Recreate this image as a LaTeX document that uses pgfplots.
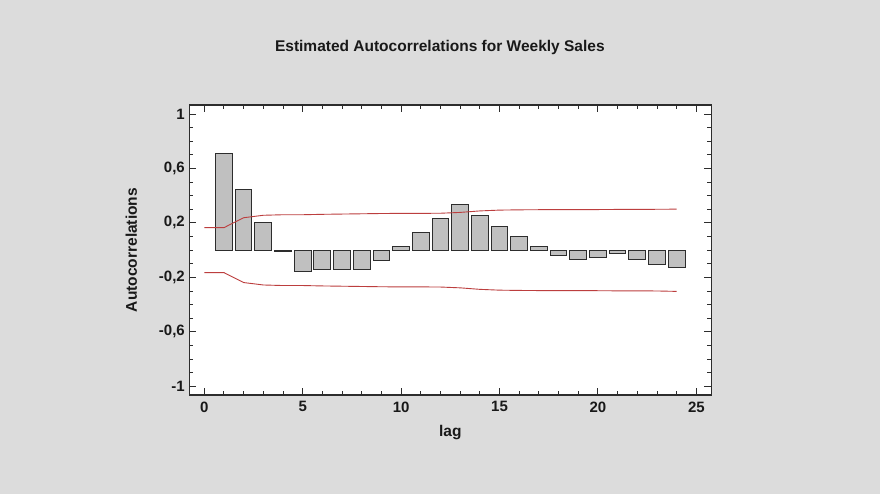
\documentclass[border=0pt]{standalone}
\usepackage{pgfplots}
\pgfplotsset{compat=1.18}
\usepackage{fontspec}
\setmainfont{Liberation Sans}
\definecolor{bgc}{RGB}{220,220,220}
\definecolor{barc}{RGB}{192,192,192}
\definecolor{edgec}{RGB}{45,45,45}
\definecolor{limc}{RGB}{188,62,62}
\begin{document}
\begin{tikzpicture}[x=1pt,y=1pt]
\fill[bgc] (0,0) rectangle (880,494);
\useasboundingbox (0,0) rectangle (880,494);
\begin{axis}[
  at={(189.3pt,99pt)}, anchor=south west,
  scale only axis, width=522pt, height=290pt,
  xmin=-0.76, xmax=25.76, ymin=-1.064, ymax=1.066,
  axis background/.style={fill=white},
  axis line style={edgec, line width=1.1pt},
  xtick={0,5,10,15,20,25},
  minor x tick num=4,
  ytick={-1,-0.6,-0.2,0.2,0.6,1},
  yticklabels={-1,{-0,6},{-0,2},{0,2},{0,6},1},
  minor y tick num=3,
  tick align=inside,
  major tick length=7pt, minor tick length=4pt,
  tick style={edgec, line width=0.9pt},
  /pgf/number format/assume math mode=true,
  tick label style={font=\fontsize{15}{18}\selectfont\bfseries, text=black!90},
  xticklabel style={yshift=-3pt},
  yticklabel style={xshift=-1pt},
  xlabel={lag},
  ylabel={Autocorrelations},
  label style={font=\fontsize{15.5}{18}\selectfont\bfseries, text=black!90},
  xlabel style={at={(axis description cs:0.5,-0.128)}, anchor=center},
  ylabel style={at={(axis description cs:-0.111,0.5)}, anchor=center},
  title={Estimated Autocorrelations for Weekly Sales},
  title style={at={(axis description cs:0.480,1.176)}, anchor=center,
    font=\fontsize{15.5}{18}\selectfont\bfseries, text=black!90},
]
\addplot[ybar, bar width=0.85, fill=barc, draw=edgec, line width=1pt] coordinates {
(1,0.708) (2,0.445) (3,0.204) (4,-0.008) (5,-0.160) (6,-0.144)
(7,-0.139) (8,-0.144) (9,-0.078) (10,0.027) (11,0.131) (12,0.234)
(13,0.336) (14,0.253) (15,0.175) (16,0.097) (17,0.027) (18,-0.036)
(19,-0.066) (20,-0.054) (21,-0.022) (22,-0.066) (23,-0.102) (24,-0.131)
};
\addplot[limc, line width=0.9pt, mark=none] coordinates {
(0,0.165) (1,0.165) (2,0.238) (3,0.256) (4,0.260) (5,0.260) (6,0.263)
(7,0.265) (8,0.267) (9,0.269) (10,0.270) (11,0.270) (12,0.271) (13,0.277)
(14,0.288) (15,0.294) (16,0.296) (17,0.297) (18,0.297) (19,0.297) (20,0.298)
(21,0.299) (22,0.299) (23,0.300) (24,0.301)
};
\addplot[limc, line width=0.9pt, mark=none] coordinates {
(0,-0.165) (1,-0.165) (2,-0.238) (3,-0.256) (4,-0.260) (5,-0.260) (6,-0.263)
(7,-0.265) (8,-0.267) (9,-0.269) (10,-0.270) (11,-0.270) (12,-0.271) (13,-0.277)
(14,-0.288) (15,-0.294) (16,-0.296) (17,-0.297) (18,-0.297) (19,-0.297) (20,-0.298)
(21,-0.299) (22,-0.299) (23,-0.300) (24,-0.303)
};
\end{axis}
\end{tikzpicture}
\end{document}
